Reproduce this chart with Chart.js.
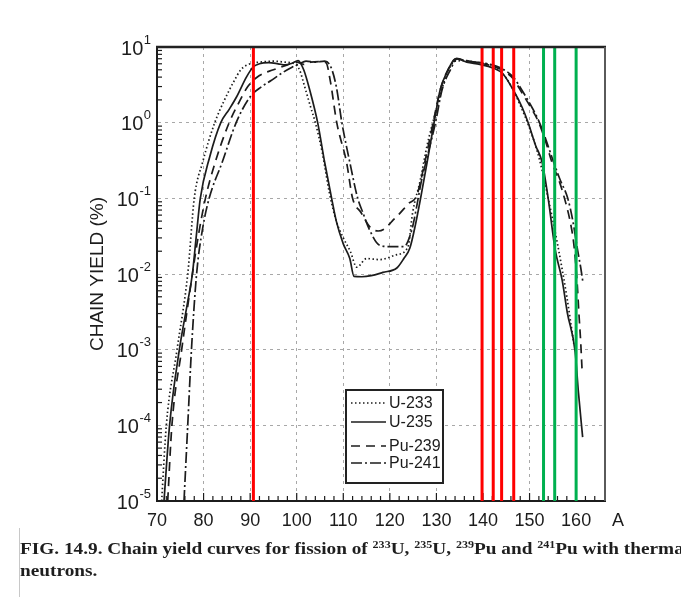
<!DOCTYPE html>
<html>
<head>
<meta charset="utf-8">
<script src="https://cdn.jsdelivr.net/npm/chart.js@4.4.1/dist/chart.umd.min.js"></script>
<style>
  html, body { margin: 0; padding: 0; background: #fff; }
  #wrap { position: relative; width: 681px; height: 597px; overflow: hidden; }
  #chart { position: absolute; left: 0; top: 0; }
  #caption {
    position: absolute; left: 20px; top: 538px;
    font-family: "Liberation Serif", "Times New Roman", serif;
    font-weight: bold; font-size: 16px; line-height: 22px;
    color: #1e1e1e; white-space: nowrap;
    transform: scaleX(1.205); transform-origin: 0 0;
  }
  #caption sup { font-size: 10px; vertical-align: 6px; line-height: 0; }
  #edge { position: absolute; left: 19px; top: 528px; width: 1px; height: 69px; background: #c8c8c8; }
</style>
</head>
<body>
<div id="wrap">
  <canvas id="chart" width="681" height="597"></canvas>
  <div id="edge"></div>
  <div id="caption">FIG. 14.9. Chain yield curves for fission of <sup>233</sup>U, <sup>235</sup>U, <sup>239</sup>Pu and <sup>241</sup>Pu with thermal<br>neutrons.</div>
</div>
<script>
// tick labels
const xTicks = [70, 80, 90, 100, 110, 120, 130, 140, 150, 160];
const yDecades = [1e-5, 1e-4, 1e-3, 1e-2, 1e-1, 1e0, 1e1];

// marker lines (mass number)
const redLines = [90.7, 139.8, 142.2, 144.0, 146.6];
const greenLines = [153.0, 155.4, 160.0];

// U-233 (dotted)
const u233A = [71.0, 72.0, 74.3, 76.6, 78.0, 79.8, 82.4, 84.5, 86.5, 88.0, 90.0, 92.0, 95.0, 97.5, 99.5, 100.6, 101.7, 103.0, 104.0, 105.5, 107.0, 108.5, 110.0, 111.5, 112.9, 115.0, 117.8, 121.5, 123.9, 124.9, 126.5, 128.0, 130.0, 132.0, 134.0, 136.0, 139.0, 142.0, 144.0, 146.0, 148.0, 150.0, 152.0, 154.0, 156.0, 158.0, 159.5];
const u233Y = [1e-5, 1e-4, 1e-3, 1e-2, 0.1, 0.3, 1.0, 2.0, 3.5, 5.0, 6.0, 6.3, 6.5, 6.3, 6.0, 5.0, 3.0, 1.6, 1.0, 0.4, 0.12, 0.05, 0.03, 0.02, 0.0123, 0.016, 0.0155, 0.018, 0.023, 0.065, 0.17, 0.5, 1.5, 4.0, 6.5, 6.6, 6.2, 5.7, 4.6, 3.1, 1.7, 0.85, 0.35, 0.1, 0.025, 0.005, 0.0012];

// U-235 (solid)
const u235A = [71.5, 72.7, 74.8, 76.5, 77.6, 78.4, 79.3, 81.3, 83.7, 85.5, 87.1, 89.2, 90.6, 92.0, 94.0, 96.0, 97.5, 99.0, 100.3, 101.5, 102.8, 104.5, 106.0, 107.5, 108.5, 110.0, 111.4, 112.3, 114.0, 116.0, 118.5, 121.5, 123.0, 124.3, 125.5, 126.6, 128.0, 129.5, 130.8, 132.2, 134.3, 136.5, 139.3, 142.1, 144.3, 146.5, 148.4, 149.7, 151.3, 152.7, 154.0, 155.5, 157.0, 158.1, 159.8, 160.5, 161.4];
const u235Y = [1e-5, 1e-4, 1e-3, 4e-3, 1e-2, 0.03, 0.1, 0.35, 1.0, 1.5, 2.2, 4.0, 5.4, 6.0, 6.2, 6.0, 5.8, 6.1, 6.6, 5.0, 2.7, 1.0, 0.3, 0.1, 0.05, 0.025, 0.016, 0.0093, 0.0092, 0.0095, 0.0105, 0.012, 0.016, 0.022, 0.045, 0.1, 0.3, 1.0, 2.7, 4.6, 7.0, 6.3, 5.9, 5.3, 4.4, 2.7, 1.6, 1.0, 0.5, 0.3, 0.1, 0.021, 0.0083, 0.0031, 0.00093, 0.00027, 0.00007];

// Pu-239 (dashed)
const pu239A = [72.3, 73.2, 75.3, 77.6, 78.8, 80.4, 82.5, 85.5, 87.5, 89.5, 92.0, 95.0, 98.0, 100.0, 101.5, 103.0, 105.0, 106.3, 107.2, 108.6, 110.7, 112.0, 113.8, 115.7, 117.5, 119.0, 120.5, 122.0, 124.0, 125.8, 127.5, 129.3, 130.8, 132.5, 134.3, 136.5, 139.5, 142.0, 144.5, 146.5, 148.5, 150.5, 152.0, 153.5, 154.8, 156.5, 157.5, 158.7, 159.5, 160.2, 160.6, 161.0, 161.3];
const pu239Y = [1e-5, 1e-4, 1e-3, 1e-2, 0.03, 0.1, 0.3, 1.0, 1.8, 3.0, 4.2, 5.0, 5.8, 6.3, 5.9, 6.3, 6.4, 6.2, 3.6, 1.0, 0.3, 0.1, 0.065, 0.042, 0.037, 0.04, 0.05, 0.062, 0.085, 0.11, 0.3, 1.0, 2.7, 5.0, 7.0, 6.6, 6.1, 5.6, 4.8, 3.8, 2.4, 1.5, 1.0, 0.55, 0.3, 0.16, 0.1, 0.05, 0.025, 0.008, 0.003, 0.0012, 0.0005];

// Pu-241 (dash-dot)
const pu241A = [75.8, 76.6, 77.4, 78.5, 79.8, 81.2, 84.0, 87.0, 90.0, 92.5, 94.5, 97.0, 99.0, 100.6, 102.0, 104.0, 106.0, 107.3, 108.5, 109.7, 111.4, 113.1, 114.2, 115.5, 117.8, 120.0, 123.0, 124.7, 125.8, 126.6, 128.0, 129.8, 131.2, 133.0, 134.5, 136.5, 139.5, 142.0, 144.5, 146.5, 148.5, 150.5, 152.0, 153.5, 154.8, 156.5, 158.2, 159.3, 160.3, 161.0, 161.5];
const pu241Y = [1e-5, 1e-4, 1e-3, 1e-2, 0.04, 0.1, 0.3, 1.0, 2.2, 3.0, 3.6, 4.6, 5.4, 6.0, 6.5, 6.3, 6.5, 5.5, 3.0, 1.0, 0.3, 0.1, 0.065, 0.04, 0.024, 0.023, 0.023, 0.038, 0.08, 0.15, 0.35, 1.0, 2.7, 5.0, 7.0, 6.5, 6.2, 5.8, 5.0, 4.0, 2.6, 1.6, 1.05, 0.6, 0.35, 0.18, 0.1, 0.05, 0.021, 0.012, 0.0075];

function pts(a, y) {
    return a.map(function (v, i) { return { x: v, y: y[i] }; });
}

function vline(v, color) {
    return {
        label: '',
        data: [{ x: v, y: yDecades[0] }, { x: v, y: yDecades[yDecades.length - 1] }],
        borderColor: color,
        borderWidth: 3,
        pointRadius: 0,
        order: 0,
        isMarker: true
    };
}

var ink = '#1c1c1c';
var curves = [
    { label: 'U-233', data: pts(u233A, u233Y), borderColor: ink, borderWidth: 1.7, borderDash: [1.5, 2.5], pointRadius: 0, cubicInterpolationMode: 'monotone', order: 1 },
    { label: 'U-235', data: pts(u235A, u235Y), borderColor: ink, borderWidth: 1.7, borderDash: [], pointRadius: 0, cubicInterpolationMode: 'monotone', order: 1 },
    { label: 'Pu-239', data: pts(pu239A, pu239Y), borderColor: ink, borderWidth: 1.7, borderDash: [9, 6], pointRadius: 0, cubicInterpolationMode: 'monotone', order: 1 },
    { label: 'Pu-241', data: pts(pu241A, pu241Y), borderColor: ink, borderWidth: 1.7, borderDash: [11, 3, 2, 3], pointRadius: 0, cubicInterpolationMode: 'monotone', order: 1 }
];
var markers = redLines.map(function (v) { return vline(v, '#ff0000'); })
    .concat(greenLines.map(function (v) { return vline(v, '#00b04f'); }));

var isDecade = function (v) {
    var l = Math.log10(v);
    return Math.abs(l - Math.round(l)) < 1e-9;
};

// frame, inward ticks, superscript tick labels, "A", legend
const decorations = {
    id: 'decorations',
    beforeDatasetsDraw(chart) {
        const { ctx, chartArea: a, scales: { x, y } } = chart;
        ctx.save();
        ctx.strokeStyle = ink;
        ctx.lineWidth = 1.2;
        // log minor ticks on the left axis
        for (var d = -5; d < 1; d++) {
            for (var m = 2; m <= 9; m++) {
                var py = y.getPixelForValue(m * Math.pow(10, d));
                ctx.beginPath(); ctx.moveTo(a.left, py); ctx.lineTo(a.left + 5, py); ctx.stroke();
            }
        }
        // minor ticks on the bottom axis every 2 units
        for (var v = 72; v <= 166; v += 2) {
            var px = x.getPixelForValue(v);
            if (px > a.right - 2) break;
            var len = (v % 10 === 0) ? 8 : 5;
            ctx.beginPath(); ctx.moveTo(px, a.bottom); ctx.lineTo(px, a.bottom - len); ctx.stroke();
        }
        ctx.restore();
    },
    afterDraw(chart) {
        const { ctx, chartArea: a, scales: { x, y } } = chart;
        ctx.save();
        // top and right frame lines
        ctx.strokeStyle = '#222';
        ctx.lineWidth = 2.5;
        ctx.beginPath(); ctx.moveTo(a.left - 1, a.top); ctx.lineTo(a.right + 1, a.top); ctx.stroke();
        ctx.strokeStyle = '#5a5a5a';
        ctx.lineWidth = 2;
        ctx.beginPath(); ctx.moveTo(a.right, a.top); ctx.lineTo(a.right, a.bottom); ctx.stroke();

        // y tick labels: 10 with superscript exponent
        ctx.fillStyle = ink;
        ctx.textBaseline = 'middle';
        yDecades.forEach(function (v) {
            var py = y.getPixelForValue(v) + 2;
            var exp = String(Math.round(Math.log10(v)));
            ctx.font = '13px "Liberation Sans", Arial, sans-serif';
            var ew = ctx.measureText(exp).width;
            var right = a.left - 6;
            ctx.textAlign = 'left';
            ctx.fillText(exp, right - ew, py - 9);
            ctx.font = '20px "Liberation Sans", Arial, sans-serif';
            ctx.textAlign = 'right';
            ctx.fillText('10', right - ew - 0.5, py);
        });

        // axis unit label at the right end of the x axis
        ctx.font = '18px "Liberation Sans", Arial, sans-serif';
        ctx.textAlign = 'left';
        ctx.fillText('A', a.right + 7, a.bottom + 20);

        // legend box
        var bx = 346, by = 390, bw = 97, bh = 93;
        ctx.fillStyle = '#fff';
        ctx.fillRect(bx, by, bw, bh);
        ctx.strokeStyle = '#222';
        ctx.lineWidth = 2;
        ctx.strokeRect(bx, by, bw, bh);
        var rows = [403, 422, 446, 463];
        chart.data.datasets.filter(function (ds) { return !ds.isMarker; }).forEach(function (ds, i) {
            var ry = rows[i];
            ctx.strokeStyle = ds.borderColor;
            ctx.lineWidth = 1.7;
            ctx.setLineDash(ds.borderDash || []);
            ctx.beginPath(); ctx.moveTo(bx + 5, ry); ctx.lineTo(bx + 40, ry); ctx.stroke();
            ctx.setLineDash([]);
            ctx.fillStyle = ink;
            ctx.font = '16px "Liberation Sans", Arial, sans-serif';
            ctx.textAlign = 'left';
            ctx.fillText(ds.label, bx + 43, ry + 1);
        });
        ctx.restore();
    }
};

new Chart(document.getElementById('chart'), {
    type: 'line',
    data: { datasets: curves.concat(markers) },
    options: {
        responsive: false,
        animation: false,
        events: [],
        layout: { padding: { left: 0, right: 76, top: 47, bottom: 0 } },
        plugins: { legend: { display: false }, tooltip: { enabled: false } },
        scales: {
            x: {
                type: 'linear',
                min: 70,
                max: 166.2,
                afterBuildTicks: function (s) { s.ticks = xTicks.map(function (v) { return { value: v }; }); },
                afterFit: function (s) { s.height = 96; },
                grid: {
                    color: function (c) { return c.tick && c.tick.value > 70 ? '#a8a8a8' : 'rgba(0,0,0,0)'; },
                    lineWidth: 1,
                    drawTicks: false
                },
                border: { display: true, color: ink, width: 2, dash: [3, 4] },
                ticks: {
                    color: ink,
                    font: { family: '"Liberation Sans", Arial, sans-serif', size: 18 },
                    padding: 9,
                    maxRotation: 0,
                    autoSkip: false
                }
            },
            y: {
                type: 'logarithmic',
                min: 1e-5,
                max: 10,
                afterFit: function (s) { s.width = 157; },
                ticks: { display: false },
                grid: {
                    color: function (c) {
                        var v = c.tick ? c.tick.value : 0;
                        return (v > 1e-5 && v < 10 && isDecade(v)) ? '#a8a8a8' : 'rgba(0,0,0,0)';
                    },
                    lineWidth: 1,
                    drawTicks: false
                },
                border: { display: true, color: ink, width: 2, dash: [3, 4] },
                title: {
                    display: true,
                    text: 'CHAIN YIELD (%)',
                    color: ink,
                    font: { family: '"Liberation Sans", Arial, sans-serif', size: 19 },
                    padding: { top: 86, bottom: 0 }
                }
            }
        }
    },
    plugins: [decorations]
});
</script>
</body>
</html>
